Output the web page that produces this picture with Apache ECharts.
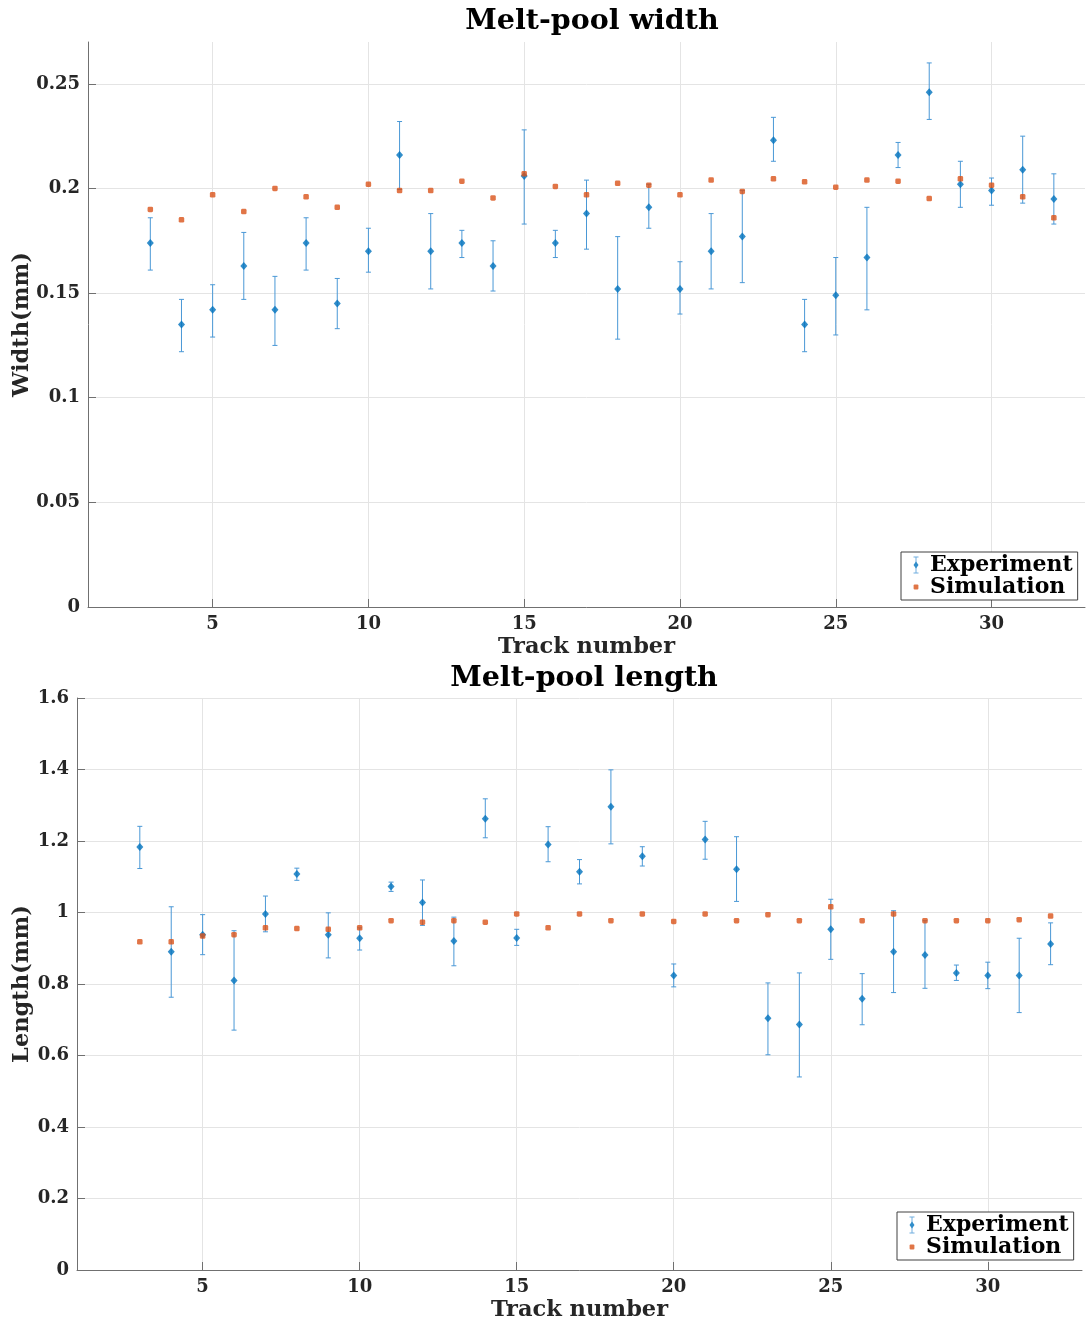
<!DOCTYPE html>
<html><head><meta charset="utf-8">
<script src="https://cdn.jsdelivr.net/npm/echarts@6/dist/echarts.min.js"></script>
<style>html,body{margin:0;padding:0;background:#fff}#c{width:1088px;height:1325px}</style>
</head><body><div id="c"></div>
<script>
const tracks = [3,4,5,6,7,8,9,10,11,12,13,14,15,16,17,18,19,20,21,22,23,24,25,26,27,28,29,30,31,32];

const widthExp  = [0.174,0.135,0.142,0.163,0.142,0.174,0.145,0.170,0.216,0.170,0.174,0.163,0.206,0.174,0.188,0.152,0.191,0.152,0.170,0.177,0.223,0.135,0.149,0.167,0.216,0.246,0.202,0.199,0.209,0.195];
const widthLow  = [0.161,0.122,0.129,0.147,0.125,0.161,0.133,0.160,0.1995,0.152,0.167,0.151,0.183,0.167,0.171,0.128,0.181,0.140,0.152,0.155,0.213,0.122,0.130,0.142,0.210,0.233,0.191,0.192,0.193,0.183];
const widthHigh = [0.186,0.147,0.154,0.179,0.158,0.186,0.157,0.181,0.232,0.188,0.180,0.175,0.228,0.180,0.204,0.177,0.202,0.165,0.188,0.199,0.234,0.147,0.167,0.191,0.222,0.260,0.213,0.205,0.225,0.207];
const widthSim  = [0.190,0.185,0.197,0.189,0.200,0.196,0.191,0.202,0.199,0.199,0.2035,0.1955,0.207,0.201,0.197,0.2025,0.2016,0.197,0.204,0.1986,0.2046,0.2032,0.2006,0.204,0.2035,0.1952,0.2046,0.2016,0.196,0.186];

const lengthExp  = [1.183,0.890,0.938,0.810,0.996,1.108,0.938,0.928,1.073,1.028,0.920,1.262,0.929,1.190,1.114,1.296,1.157,0.824,1.204,1.121,0.704,0.687,0.953,0.759,0.890,0.881,0.831,0.824,0.824,0.912];
const lengthLow  = [1.123,0.763,0.882,0.671,0.946,1.090,0.873,0.895,1.059,0.964,0.851,1.209,0.908,1.142,1.080,1.192,1.130,0.792,1.149,1.031,0.602,0.540,0.869,0.686,0.776,0.788,0.810,0.787,0.720,0.854];
const lengthHigh = [1.241,1.016,0.994,0.949,1.046,1.124,0.999,0.957,1.085,1.091,0.987,1.318,0.953,1.240,1.148,1.399,1.184,0.856,1.255,1.212,0.803,0.831,1.037,0.829,1.005,0.977,0.853,0.861,0.928,0.971];
const lengthSim  = [0.918,0.918,0.934,0.938,0.957,0.955,0.953,0.957,0.977,0.973,0.977,0.973,0.996,0.957,0.996,0.977,0.996,0.975,0.996,0.977,0.994,0.977,1.016,0.977,0.996,0.977,0.977,0.977,0.980,0.990];

const xTicks = [5,10,15,20,25,30];
const widthTicks = [0,0.05,0.1,0.15,0.2,0.25];
const lengthTicks = [0,0.2,0.4,0.6,0.8,1.0,1.2,1.4,1.6];

const FONT = 'DejaVu Serif';
const BLUE = '#0072BD', BAR = '#4a98d6', ORANGE = '#D95319';

function errRender(params, api) {
  const x = api.value(0), lo = api.value(1), hi = api.value(2);
  const pLo = api.coord([x, lo]), pHi = api.coord([x, hi]);
  const w = 2.5;
  const style = {stroke: BAR, lineWidth: 1, fill: null};
  return {type: 'group', children: [
    {type: 'line', shape: {x1: pLo[0], y1: pLo[1], x2: pHi[0], y2: pHi[1]}, style},
    {type: 'line', shape: {x1: pLo[0]-w, y1: pLo[1], x2: pLo[0]+w, y2: pLo[1]}, style},
    {type: 'line', shape: {x1: pHi[0]-w, y1: pHi[1], x2: pHi[0]+w, y2: pHi[1]}, style}
  ]};
}

function svgIcon(svg) { return 'image://data:image/svg+xml;utf8,' + encodeURIComponent(svg); }
const expIcon = svgIcon('<svg xmlns="http://www.w3.org/2000/svg" width="18" height="18" viewBox="0 0 18 18">' +
  '<g stroke="' + BAR + '" stroke-width="1" fill="none"><line x1="9" y1="1" x2="9" y2="17"/><line x1="6.5" y1="1" x2="11.5" y2="1"/><line x1="6.5" y1="17" x2="11.5" y2="17"/></g>' +
  '<path d="M9,5.5 L11.5,9 L9,12.5 L6.5,9 Z" fill="' + BLUE + '"/></svg>');
const simIcon = svgIcon('<svg xmlns="http://www.w3.org/2000/svg" width="18" height="18" viewBox="0 0 18 18">' +
  '<rect x="6.6" y="6.6" width="4.8" height="4.8" rx="1" fill="' + ORANGE + '"/></svg>');

function xAxis(gridIndex) {
  return {
    type: 'value', gridIndex, min: 1, max: 33,
    name: 'Track number', nameLocation: 'middle', nameGap: 29, nameMoveOverlap: false,
    nameTextStyle: {fontFamily: FONT, fontWeight: 'bold', fontSize: 22.5, color: '#262626'},
    axisLine: {show: true, onZero: false, lineStyle: {color: '#707070', width: 1}},
    axisTick: {show: true, inside: true, length: 8, customValues: xTicks, lineStyle: {color: '#707070'}},
    axisLabel: {customValues: xTicks, fontFamily: FONT, fontWeight: 'bold', fontSize: 18, color: '#262626', margin: 8},
    splitLine: {show: true, lineStyle: {color: '#e4e4e4', width: 1}}
  };
}
function yAxis(gridIndex, max, ticks, name, gap) {
  return {
    type: 'value', gridIndex, min: 0, max,
    name, nameLocation: 'middle', nameGap: gap, nameMoveOverlap: false,
    nameTextStyle: {fontFamily: FONT, fontWeight: 'bold', fontSize: 22.5, color: '#262626'},
    axisLine: {show: true, lineStyle: {color: '#707070', width: 1}},
    axisTick: {show: true, inside: true, length: 8, customValues: ticks, lineStyle: {color: '#707070'}},
    axisLabel: {customValues: ticks, fontFamily: FONT, fontWeight: 'bold', fontSize: 18, color: '#262626', margin: 8},
    splitLine: {show: true, lineStyle: {color: '#e4e4e4', width: 1}}
  };
}
function legend(left, top) {
  return {
    orient: 'vertical', left, top, itemGap: 0, itemWidth: 18, itemHeight: 18,
    padding: [2, 5, 2, 6], borderColor: '#404040', borderWidth: 1, backgroundColor: '#fff',
    selectedMode: false,
    textStyle: {fontFamily: FONT, fontWeight: 'bold', fontSize: 22, color: '#000', padding: [0,0,0,0]},
    data: [{name: 'Experiment', icon: expIcon}, {name: 'Simulation', icon: simIcon}]
  };
}

const expPts = (v) => tracks.map((t, i) => [t, v[i]]);
const errPts = (lo, hi) => tracks.map((t, i) => [t, lo[i], hi[i]]);

const option = {
  animation: false,
  title: [
    {text: 'Melt-pool width', left: 587, top: 2, textAlign: 'center',
     textStyle: {fontFamily: FONT, fontWeight: 'bold', fontSize: 28.5, color: '#000'}},
    {text: 'Melt-pool length', left: 579, top: 659, textAlign: 'center',
     textStyle: {fontFamily: FONT, fontWeight: 'bold', fontSize: 28.5, color: '#000'}}
  ],
  grid: [
    {left: 88, top: 42, width: 997, height: 565, containLabel: false, outerBoundsMode: 'none'},
    {left: 77, top: 698, width: 1005, height: 572, containLabel: false, outerBoundsMode: 'none'}
  ],
  legend: [legend(901, 552), legend(897, 1212)],
  xAxis: [xAxis(0), xAxis(1)],
  yAxis: [yAxis(0, 0.27, widthTicks, 'Width(mm)', 54), yAxis(1, 1.6, lengthTicks, 'Length(mm)', 43)],
  series: [
    {type: 'custom', name: 'ExpErrW', xAxisIndex: 0, yAxisIndex: 0, renderItem: errRender,
     encode: {x: 0, y: [1, 2]}, data: errPts(widthLow, widthHigh), z: 2},
    {type: 'scatter', name: 'Experiment', xAxisIndex: 0, yAxisIndex: 0, symbol: 'diamond', symbolSize: [7, 8],
     itemStyle: {color: BLUE}, data: expPts(widthExp), z: 3},
    {type: 'scatter', name: 'Simulation', xAxisIndex: 0, yAxisIndex: 0, symbol: 'roundRect', symbolSize: 5.5,
     itemStyle: {color: ORANGE}, data: expPts(widthSim), z: 4},
    {type: 'custom', name: 'ExpErrL', xAxisIndex: 1, yAxisIndex: 1, renderItem: errRender,
     encode: {x: 0, y: [1, 2]}, data: errPts(lengthLow, lengthHigh), z: 2},
    {type: 'scatter', name: 'Experiment', xAxisIndex: 1, yAxisIndex: 1, symbol: 'diamond', symbolSize: [7, 8],
     itemStyle: {color: BLUE}, data: expPts(lengthExp), z: 3},
    {type: 'scatter', name: 'Simulation', xAxisIndex: 1, yAxisIndex: 1, symbol: 'roundRect', symbolSize: 5.5,
     itemStyle: {color: ORANGE}, data: expPts(lengthSim), z: 4}
  ]
};

const chart = echarts.init(document.getElementById('c'), null, {renderer: 'canvas'});
chart.setOption(option);
</script>
</body></html>
